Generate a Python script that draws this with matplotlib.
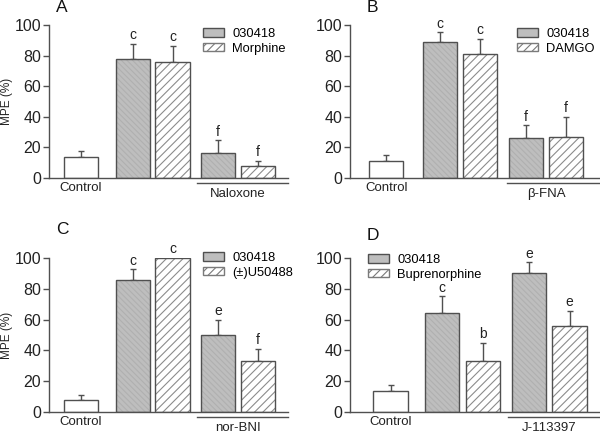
import numpy as np
import matplotlib
matplotlib.use('Agg')
import matplotlib.pyplot as plt
from matplotlib.patches import Patch
from matplotlib import transforms

plt.rcParams['font.family'] = ['Liberation Sans', 'DejaVu Sans']
plt.rcParams['hatch.linewidth'] = 0.8

# data
panels = ['A', 'B', 'C', 'D']
agonists = ['Morphine', 'DAMGO', '(±)U50488', 'Buprenorphine']
antagonists = ['Naloxone', 'β-FNA', 'nor-BNI', 'J-113397']
control = [13.7, 11.1, 7.6, 13.5]
control_err = [3.9, 3.9, 3.4, 4.3]
drug_alone = [[78.0, 76.0], [89.1, 80.8], [85.5, 100.0], [64.6, 33.0]]
drug_alone_err = [[9.8, 10.3], [6.3, 10.2], [7.1, 0.0], [10.6, 12.0]]
with_antag = [[16.6, 7.8], [26.4, 27.0], [49.8, 33.3], [90.0, 55.9]]
with_antag_err = [[8.0, 3.5], [8.0, 12.9], [10.2, 7.8], [7.2, 10.0]]
letters = [['c', 'c', 'f', 'f'], ['c', 'c', 'f', 'f'],
           ['c', 'c', 'e', 'f'], ['c', 'b', 'e', 'e']]

EDGE = '#505050'
GRAY = '#bebebe'
W, H = 600, 433

fig = plt.figure(figsize=(6, 4.33), dpi=100)

# pixel layout: (axis left, axis right, y0 pixel, y100 pixel)
boxes = [(49, 288, 178, 25), (350, 600, 178, 25),
         (49, 288, 412, 258), (350, 600, 412, 258)]
xpos = [[0, 1.32, 2.32, 3.47, 4.48], [0, 1.37, 2.38, 3.54, 4.56],
        [0, 1.32, 2.32, 3.47, 4.48], [0, 1.30, 2.33, 3.51, 4.53]]
xlims = [(-0.81, 5.24), (-0.92, 5.42), (-0.81, 5.24), (-1.03, 5.30)]
line_start = [2.94, 3.06, 2.94, 2.96]
leg_anchor = [(203, 28), (517, 28), (203, 252), (368, 254)]
letter_pos = [(62, 7), (372, 7), (62, 230), (373, 236)]
bw = 0.87

for i in range(4):
    l, r, y0, y100 = boxes[i]
    ax = fig.add_axes([l / W, (H - y0) / H, (r - l) / W, (y0 - y100) / H])
    xs = xpos[i]
    vals = [control[i]] + drug_alone[i] + with_antag[i]
    errs = [control_err[i]] + drug_alone_err[i] + with_antag_err[i]
    kinds = ['ctrl', 'fill', 'hatch', 'fill', 'hatch']

    ax.errorbar(xs, vals, yerr=[np.zeros(5), errs], fmt='none', ecolor=EDGE,
                elinewidth=1, capsize=2.5, capthick=1, zorder=1)
    for x, v, k in zip(xs, vals, kinds):
        if k == 'ctrl':
            ax.bar(x, v, bw, color='white', edgecolor=EDGE, lw=1, zorder=2)
        elif k == 'fill':
            ax.bar(x, v, bw, color=GRAY, edgecolor='#b0b0b0', lw=0,
                   hatch='\\\\\\\\\\\\', zorder=2)
            ax.bar(x, v, bw, fill=False, edgecolor=EDGE, lw=1, zorder=3)
        else:
            ax.bar(x, v, bw, color='white', edgecolor='#8c8c8c', lw=0,
                   hatch='////', zorder=2)
            ax.bar(x, v, bw, fill=False, edgecolor=EDGE, lw=1, zorder=3)

    for x, v, e, t in zip(xs[1:], vals[1:], errs[1:], letters[i]):
        ax.text(x, v + e + 1.0, t, ha='center', va='bottom', fontsize=10,
                color='#222222', clip_on=False)

    ax.set_xlim(*xlims[i])
    ax.set_ylim(0, 100)
    ax.set_yticks([0, 20, 40, 60, 80, 100])
    ax.set_xticks([])
    for s in ['top', 'right']:
        ax.spines[s].set_visible(False)
    for s in ['left', 'bottom']:
        ax.spines[s].set_color(EDGE)
        ax.spines[s].set_linewidth(1)
    ax.tick_params(axis='y', direction='out', length=4, width=1, color=EDGE,
                   labelsize=11.5, labelcolor='#222222', pad=1.5)
    if i % 2 == 0:
        fig.text(7 / W, 1 - (y0 + y100) / 2 / H, 'MPE (%)', rotation=90,
                 ha='center', va='center', fontsize=8.5, color='#222222')

    trans = transforms.blended_transform_factory(ax.transData, ax.transAxes)
    ax.plot([line_start[i], xlims[i][1]], [-0.031, -0.031], color=EDGE, lw=1,
            transform=trans, clip_on=False)
    ax.text(xs[0], -0.068, 'Control', transform=trans, ha='center',
            va='center', fontsize=9.5, color='#222222')
    ax.text((xs[3] + xs[4]) / 2, -0.103, antagonists[i], transform=trans,
            ha='center', va='center', fontsize=9.5, color='#222222')

    handles = [Patch(facecolor=GRAY, edgecolor=EDGE, lw=1),
               Patch(facecolor='white', edgecolor='#7a7a7a', lw=1, hatch='////')]
    lx, ly = leg_anchor[i]
    ax.legend(handles, ['030418', agonists[i]], loc='upper left',
              bbox_to_anchor=((lx - l) / (r - l), (y0 - ly) / (y0 - y100)),
              frameon=False, fontsize=9.3, handlelength=1.6, handleheight=0.6,
              handletextpad=0.65, labelspacing=0.2, borderpad=0,
              borderaxespad=0)

    px, py = letter_pos[i]
    fig.text(px / W, 1 - py / H, panels[i], ha='center', va='center',
             fontsize=12.5, color='#111111')

fig.savefig('out.png', dpi=100)
